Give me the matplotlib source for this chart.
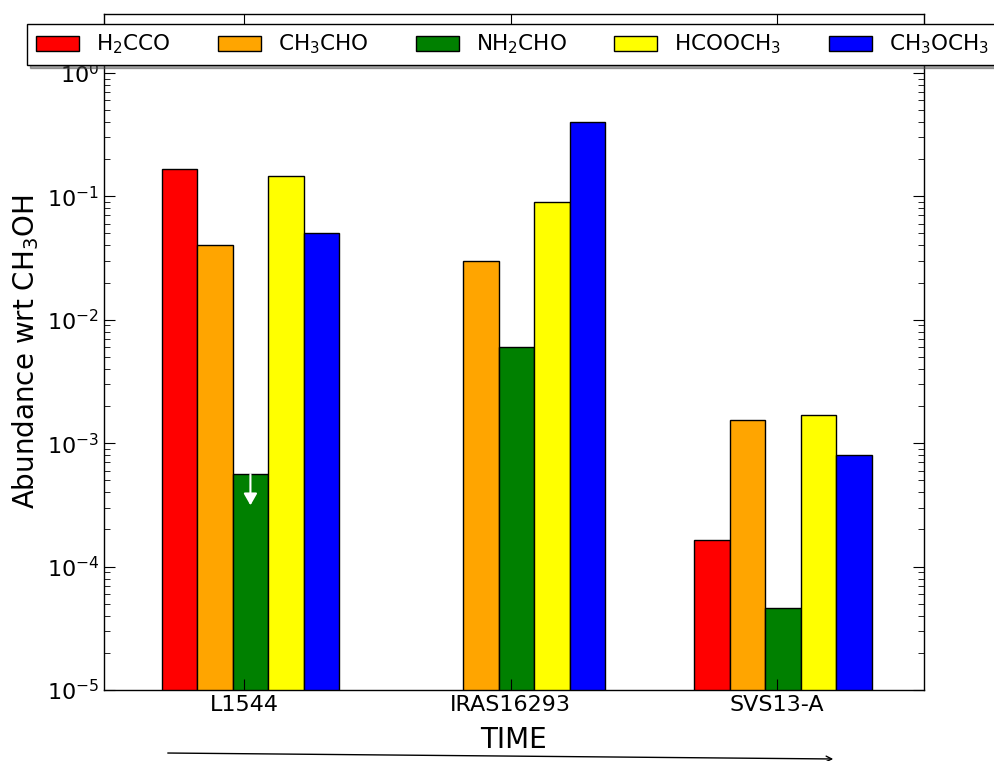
import matplotlib
matplotlib.use('Agg')
import matplotlib.pyplot as plt
import numpy as np

sources = ['L1544', 'IRAS16293', 'SVS13-A']
molecules = ['H$_2$CCO', 'CH$_3$CHO', 'NH$_2$CHO', 'HCOOCH$_3$', 'CH$_3$OCH$_3$']
colors = ['red', 'orange', 'green', 'yellow', 'blue']

# abundances wrt CH3OH, one list per molecule (L1544, IRAS16293, SVS13-A)
h2cco = [0.167, np.nan, 1.65e-4]
ch3cho = [0.040, 0.030, 1.55e-3]
nh2cho = [5.6e-4, 6.0e-3, 4.6e-5]
hcooch3 = [0.146, 0.090, 1.7e-3]
ch3och3 = [0.050, 0.40, 8.0e-4]

upper_limit = (0, 2)  # (source, molecule) of the upper limit

values = [h2cco, ch3cho, nh2cho, hcooch3, ch3och3]

index = np.arange(len(sources))
width = 0.1333

fig = plt.figure(figsize=(9.94, 7.61), dpi=100)
ax = fig.add_axes([0.1046, 0.0933, 0.825, 0.8883])

for k in range(len(molecules)):
    ax.bar(index + k * width, values[k], width, align='edge', color=colors[k],
           edgecolor='black', linewidth=1, label=molecules[k])

# white arrow on upper limit
s, m = upper_limit
xc = index[s] + (m + 0.5) * width
yv = values[m][s]
ax.annotate('', xy=(xc, yv * 0.56), xytext=(xc, yv),
            arrowprops=dict(arrowstyle='-|>,head_length=0.7,head_width=0.4',
                            color='white', lw=1.5, shrinkA=0, shrinkB=0))

ax.set_yscale('log')
ax.set_ylim(1e-5, 3)
ax.set_xlim(-0.2167, 2.8626)
ax.set_xticks(index + 0.31)
ax.set_xticklabels(sources)
ax.tick_params(which='both', direction='in', top=True, right=True, labelsize=16)
ax.tick_params(which='major', length=8)
ax.tick_params(which='minor', length=4)
for sp in ax.spines.values():
    sp.set_linewidth(1)

ax.set_xlabel('TIME', fontsize=20, labelpad=8)
ax.set_ylabel('Abundance wrt CH$_3$OH', fontsize=20)

leg = fig.legend(loc='upper left', bbox_to_anchor=(27 / 994, 1 - 24 / 761), ncol=5,
                 fontsize=15.5, shadow=True, fancybox=False, framealpha=1,
                 borderaxespad=0, columnspacing=2.2, handlelength=2.0)
leg.get_frame().set_edgecolor('black')
leg.get_frame().set_linewidth(1)

fig.add_artist(matplotlib.patches.FancyArrowPatch(
    (165 / 994, 1 - 753 / 761), (836 / 994, 1 - 759 / 761),
    transform=fig.transFigure, arrowstyle='->,head_length=4,head_width=2',
    color='black', lw=1))

fig.savefig('out.png', dpi=100)
